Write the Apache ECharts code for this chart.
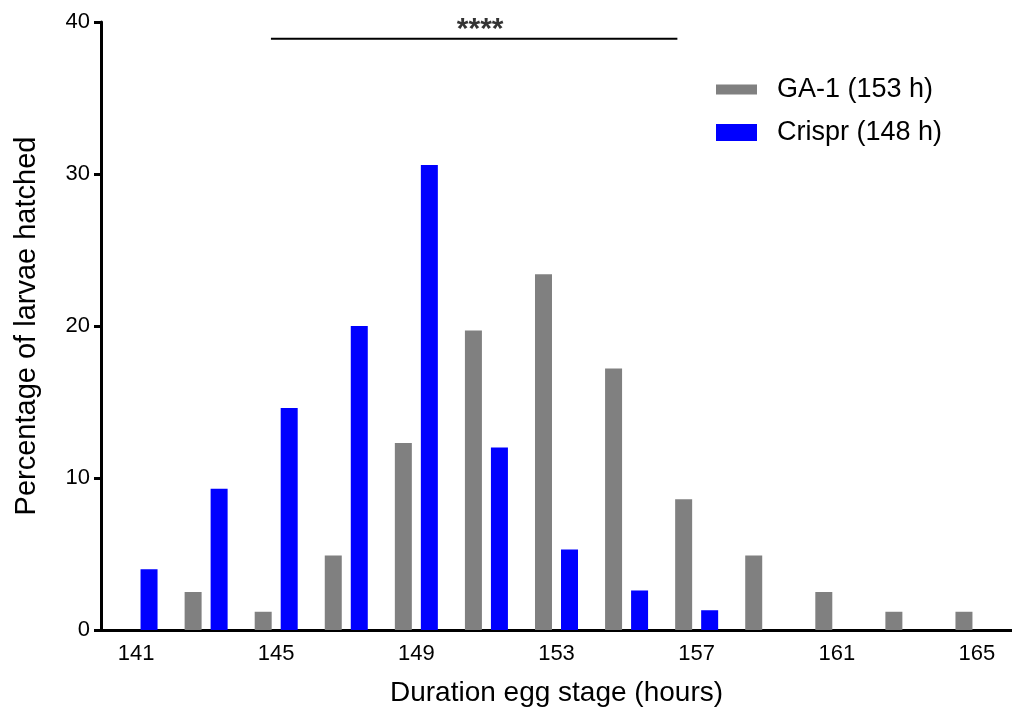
<!DOCTYPE html>
<html>
<head>
<meta charset="utf-8">
<title>Duration egg stage</title>
<script src="https://cdn.jsdelivr.net/npm/echarts@6/dist/echarts.min.js"></script>
<style>
  html, body { margin: 0; padding: 0; background: #ffffff; }
  #chart { width: 1012px; height: 712px; }
</style>
</head>
<body>
<div id="chart"></div>
<script>
// Hatching time (hours) in 2 h bins
const hours = ['141', '143', '145', '147', '149', '151', '153', '155', '157', '159', '161', '163', '165'];
// Percentage of larvae hatched per bin
const ga1 = [null, 2.5, 1.2, 4.9, 12.3, 19.7, 23.4, 17.2, 8.6, 4.9, 2.5, 1.2, 1.2];
const crispr = [4.0, 9.3, 14.6, 20.0, 30.6, 12.0, 5.3, 2.6, 1.3, null, null, null, null];
const seriesNames = ['GA-1 (153 h)', 'Crispr (148 h)'];
const yTicks = [0, 40, 10];          // min, max, step
// Significance bracket: span in hours and height in %
const sigSpan = [144.85, 156.45];
const sigLevel = 38.9;
const sigMark = '****';

const FONT = 'Liberation Sans, Arial, sans-serif';
const chart = echarts.init(document.getElementById('chart'), null, { renderer: 'canvas' });

const option = {
  animation: false,
  backgroundColor: '#ffffff',
  textStyle: { fontFamily: FONT, color: '#000' },
  grid: { left: 101, top: 22, width: 916, height: 608, containLabel: false },
  legend: [
    {
      data: [seriesNames[0]], left: 711, top: 71, icon: 'rect',
      itemWidth: 41, itemHeight: 10,
      textStyle: { fontFamily: FONT, fontSize: 27, color: '#000', padding: [0, 0, 0, 15] }
    },
    {
      data: [seriesNames[1]], left: 711, top: 114, icon: 'rect',
      itemWidth: 41, itemHeight: 17,
      textStyle: { fontFamily: FONT, fontSize: 27, color: '#000', padding: [0, 0, 0, 15] }
    }
  ],
  xAxis: [
    {
      type: 'category',
      data: hours,
      boundaryGap: true,
      name: 'Duration egg stage (hours)',
      nameLocation: 'middle',
      nameGap: 49,
      nameTextStyle: { fontFamily: FONT, fontSize: 28, color: '#000' },
      axisLine: { show: true, lineStyle: { color: '#000', width: 3 } },
      axisTick: { show: false },
      axisLabel: { interval: 1, margin: 13, fontFamily: FONT, fontSize: 22, color: '#000' },
      splitLine: { show: false }
    },
    {
      type: 'value', min: 140, max: 166, show: false
    }
  ],
  yAxis: {
    type: 'value',
    min: yTicks[0], max: yTicks[1], interval: yTicks[2],
    name: 'Percentage of larvae hatched',
    nameLocation: 'middle',
    nameGap: 60,
    nameTextStyle: { fontFamily: FONT, fontSize: 29, color: '#000' },
    axisLine: { show: true, lineStyle: { color: '#000', width: 3 } },
    axisTick: { show: true, length: 7, lineStyle: { color: '#000', width: 3 } },
    axisLabel: { margin: 11, fontFamily: FONT, fontSize: 22, color: '#000' },
    splitLine: { show: false }
  },
  series: [
    {
      name: seriesNames[0], type: 'bar', data: ga1,
      barWidth: 17, barGap: '53%',
      itemStyle: { color: '#808080' }
    },
    {
      name: seriesNames[1], type: 'bar', data: crispr,
      barWidth: 17, barGap: '53%',
      itemStyle: { color: '#0000ff' }
    },
    {
      type: 'line', xAxisIndex: 1, yAxisIndex: 0,
      data: [[sigSpan[0], sigLevel], [sigSpan[1], sigLevel]],
      symbol: 'none', silent: true,
      lineStyle: { color: '#000', width: 2 }
    },
    {
      type: 'scatter', xAxisIndex: 1, yAxisIndex: 0,
      data: [[(sigSpan[0] + sigSpan[1]) / 2, sigLevel]],
      symbolSize: 0, silent: true,
      label: {
        show: true, position: 'top', distance: 0, offset: [6, 6],
        formatter: sigMark,
        fontFamily: FONT, fontSize: 30, fontWeight: 'bold', color: '#000'
      }
    }
  ]
};
chart.setOption(option);
</script>
</body>
</html>
